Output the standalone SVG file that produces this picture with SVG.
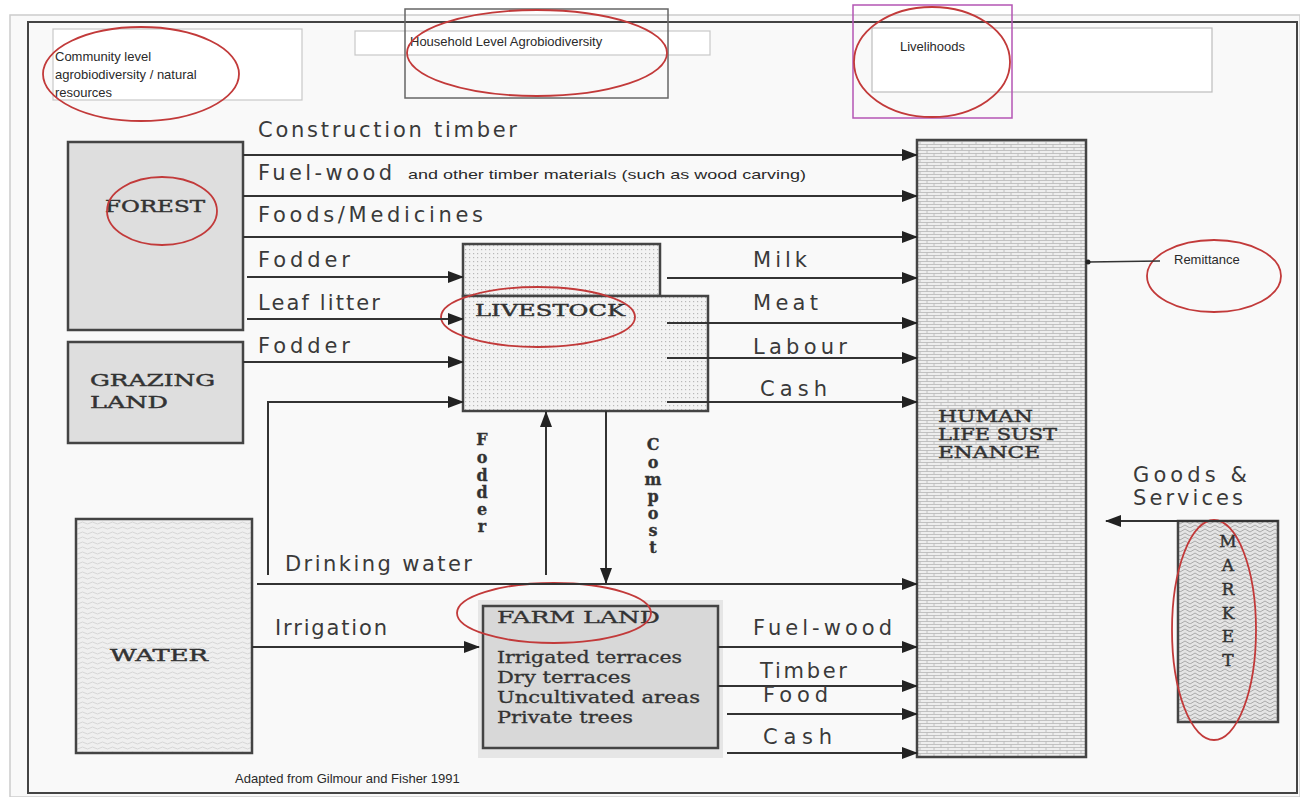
<svg xmlns="http://www.w3.org/2000/svg" width="1300" height="797" viewBox="0 0 1300 797">
<defs>
<style>
.lbl{font-family:"DejaVu Sans","Liberation Sans",Arial,sans-serif;font-size:21px;fill:#3a3a3a;}
.sm{font-family:"Liberation Sans",Arial,sans-serif;font-size:13px;fill:#2a2a2a;}
.ser{font-family:"DejaVu Serif","Liberation Serif",serif;font-size:17px;fill:#333;stroke:#333;stroke-width:0.45;}
.ser2{font-family:"DejaVu Serif","Liberation Serif",serif;font-size:16px;fill:#333;stroke:#333;stroke-width:0.3;}
.ln{stroke:#333;stroke-width:2;fill:none;}
.arr{marker-end:url(#ah);}
.box{stroke:#444;stroke-width:2.5;}
.red{fill:none;stroke:#c23a3a;stroke-width:1.8;}
</style>
<marker id="ah" markerUnits="userSpaceOnUse" markerWidth="16" markerHeight="12" refX="15" refY="6" orient="auto">
<path d="M0,0 L16,6 L0,12 z" fill="#222"/>
</marker>
<pattern id="dots" width="4" height="4" patternUnits="userSpaceOnUse">
<rect width="4" height="4" fill="#f3f3f3"/>
<rect x="1" y="1" width="1.2" height="1.2" fill="#b8b8b8"/>
</pattern>
<pattern id="brick" width="14" height="6" patternUnits="userSpaceOnUse">
<rect width="14" height="6" fill="#eeeeee"/>
<path d="M0,0.5 H14 M0,3.5 H14 M3,0.5 V3.5 M10,3.5 V6" stroke="#b5b5b5" stroke-width="0.8"/>
</pattern>
<pattern id="wave" width="10" height="5" patternUnits="userSpaceOnUse">
<rect width="10" height="5" fill="#efefef"/>
<path d="M0,3 Q2.5,1 5,3 T10,3" stroke="#cfcfcf" stroke-width="0.8" fill="none"/>
</pattern>
<pattern id="zig" width="10" height="8" patternUnits="userSpaceOnUse">
<rect width="10" height="8" fill="#e4e4e4"/>
<path d="M0,4 L5,1 L10,4 M0,8 L5,5 L10,8" stroke="#aaaaaa" stroke-width="1" fill="none"/>
</pattern>
</defs>

<rect x="0" y="0" width="1300" height="797" fill="#ffffff"/>
<rect x="10" y="15" width="1290" height="782" fill="#f9f9f9" stroke="#cccccc" stroke-width="1.5"/>
<rect x="28" y="22" width="1269" height="771" fill="#f9f9f9" stroke="#444" stroke-width="2"/>

<!-- Header boxes -->
<g id="community">
<rect x="53" y="29" width="249" height="71" fill="#ffffff" stroke="#c8c8c8" stroke-width="1.2"/>
<text class="sm" x="55" y="61">Community level</text>
<text class="sm" x="55" y="79">agrobiodiversity / natural</text>
<text class="sm" x="55" y="97">resources</text>
<ellipse class="red" cx="141" cy="74" rx="98" ry="47"/>
</g>
<g id="household">
<rect x="355" y="31" width="355" height="24" fill="#ffffff" stroke="#c8c8c8" stroke-width="1.2"/>
<rect x="405" y="9" width="263" height="89" fill="none" stroke="#666" stroke-width="1.5"/>
<text class="sm" x="410" y="46">Household Level Agrobiodiversity</text>
<ellipse class="red" cx="537" cy="53" rx="130" ry="43"/>
</g>
<g id="livelihoods">
<rect x="872" y="28" width="340" height="64" fill="#ffffff" stroke="#bdbdbd" stroke-width="1.2"/>
<rect x="853" y="5" width="159" height="113" fill="none" stroke="#b455b4" stroke-width="1.5"/>
<text class="sm" x="900" y="51">Livelihoods</text>
<ellipse class="red" cx="932" cy="62" rx="78" ry="55"/>
</g>

<!-- Nodes -->
<g id="forest">
<rect class="box" x="68" y="142" width="175" height="188" fill="#dedede"/>
<text class="ser" x="105" y="212" textLength="100" lengthAdjust="spacingAndGlyphs">FOREST</text>
<ellipse class="red" cx="162" cy="211" rx="55" ry="34"/>
</g>
<g id="grazing">
<rect class="box" x="68" y="342" width="175" height="101" fill="#dedede"/>
<text class="ser" x="90" y="386" textLength="125" lengthAdjust="spacingAndGlyphs">GRAZING</text>
<text class="ser" x="90" y="408" textLength="78" lengthAdjust="spacingAndGlyphs">LAND</text>
</g>
<g id="livestock">
<rect class="box" x="463" y="244" width="197" height="52" fill="url(#dots)"/>
<rect class="box" x="463" y="296" width="245" height="115" fill="url(#dots)"/>
<text class="ser" x="475" y="316" textLength="150" lengthAdjust="spacingAndGlyphs">LIVESTOCK</text>
<ellipse class="red" cx="538" cy="317" rx="97" ry="30"/>
</g>
<g id="water">
<rect class="box" x="76" y="519" width="176" height="234" fill="url(#wave)"/>
<text class="ser" x="110" y="661" textLength="98" lengthAdjust="spacingAndGlyphs">WATER</text>
</g>
<g id="farmland">
<rect x="478" y="600" width="245" height="158" fill="#e6e6e6"/>
<rect class="box" x="483" y="606" width="235" height="142" fill="#d8d8d8"/>
<text class="ser2" x="497" y="623" textLength="163" lengthAdjust="spacingAndGlyphs">FARM LAND</text>
<text class="ser2" x="497" y="663" textLength="185" lengthAdjust="spacingAndGlyphs">Irrigated terraces</text>
<text class="ser2" x="497" y="683" textLength="134" lengthAdjust="spacingAndGlyphs">Dry terraces</text>
<text class="ser2" x="497" y="703" textLength="203" lengthAdjust="spacingAndGlyphs">Uncultivated areas</text>
<text class="ser2" x="497" y="723" textLength="136" lengthAdjust="spacingAndGlyphs">Private trees</text>
<ellipse class="red" cx="554" cy="613" rx="97" ry="30"/>
</g>
<g id="human">
<rect class="box" x="917" y="140" width="169" height="617" fill="url(#brick)"/>
<text class="ser" x="938" y="422" textLength="95" lengthAdjust="spacingAndGlyphs">HUMAN</text>
<text class="ser" x="938" y="440" textLength="119" lengthAdjust="spacingAndGlyphs">LIFE SUST</text>
<text class="ser" x="938" y="458" textLength="102" lengthAdjust="spacingAndGlyphs">ENANCE</text>
</g>
<g id="market">
<rect class="box" x="1178" y="521" width="100" height="201" fill="url(#zig)"/>
<g class="ser" font-size="19" text-anchor="middle">
<text x="1228" y="547">M</text>
<text x="1228" y="571">A</text>
<text x="1228" y="595">R</text>
<text x="1228" y="619">K</text>
<text x="1228" y="642">E</text>
<text x="1228" y="666">T</text>
</g>
<ellipse class="red" cx="1214" cy="630" rx="42" ry="110"/>
</g>
<g id="remittance">
<text class="sm" x="1174" y="264">Remittance</text>
<ellipse class="red" cx="1214" cy="276" rx="67" ry="36"/>
</g>

<!-- Connectors -->
<g id="connectors">
<line class="ln arr" x1="243" y1="155" x2="917" y2="155"/>
<line class="ln arr" x1="243" y1="196" x2="917" y2="196"/>
<line class="ln arr" x1="243" y1="237" x2="917" y2="237"/>
<line class="ln arr" x1="247" y1="277" x2="463" y2="277"/>
<line class="ln arr" x1="247" y1="319" x2="463" y2="319"/>
<line class="ln arr" x1="243" y1="362" x2="463" y2="362"/>
<polyline class="ln arr" points="268,575 268,402 463,402"/>
<line class="ln arr" x1="667" y1="278" x2="917" y2="278"/>
<line class="ln arr" x1="667" y1="323" x2="917" y2="323"/>
<line class="ln arr" x1="667" y1="358" x2="917" y2="358"/>
<line class="ln arr" x1="667" y1="402" x2="917" y2="402"/>
<line class="ln arr" x1="546" y1="575" x2="546" y2="412"/>
<line class="ln arr" x1="606" y1="411" x2="606" y2="583"/>
<line class="ln arr" x1="257" y1="584" x2="917" y2="584"/>
<line class="ln arr" x1="252" y1="647" x2="479" y2="647"/>
<line class="ln arr" x1="718" y1="647" x2="917" y2="647"/>
<line class="ln arr" x1="718" y1="686" x2="917" y2="686"/>
<line class="ln arr" x1="727" y1="714" x2="917" y2="714"/>
<line class="ln arr" x1="727" y1="753" x2="917" y2="753"/>
<line class="ln arr" x1="1278" y1="521" x2="1106" y2="521"/>
<line x1="1088" y1="262" x2="1160" y2="261" stroke="#333" stroke-width="1.5"/>
<circle cx="1088" cy="262" r="2.5" fill="#222"/>
</g>

<!-- Connector labels -->
<g id="labels">
<text class="lbl" x="258" y="137" textLength="259" lengthAdjust="spacing">Construction timber</text>
<text class="lbl" x="258" y="180" textLength="134" lengthAdjust="spacing">Fuel-wood</text>
<text class="sm" x="408" y="179" font-size="14" textLength="398" lengthAdjust="spacingAndGlyphs">and other timber materials (such as wood carving)</text>
<text class="lbl" x="258" y="222" textLength="225" lengthAdjust="spacing">Foods/Medicines</text>
<text class="lbl" x="258" y="267" textLength="92" lengthAdjust="spacing">Fodder</text>
<text class="lbl" x="258" y="310" textLength="122" lengthAdjust="spacing">Leaf litter</text>
<text class="lbl" x="258" y="353" textLength="92" lengthAdjust="spacing">Fodder</text>
<text class="lbl" x="753" y="267" textLength="54" lengthAdjust="spacing">Milk</text>
<text class="lbl" x="753" y="310" textLength="65" lengthAdjust="spacing">Meat</text>
<text class="lbl" x="753" y="354" textLength="94" lengthAdjust="spacing">Labour</text>
<text class="lbl" x="760" y="396" textLength="67" lengthAdjust="spacing">Cash</text>
<text class="lbl" x="285" y="571" textLength="187" lengthAdjust="spacing">Drinking water</text>
<text class="lbl" x="275" y="635" textLength="112" lengthAdjust="spacing">Irrigation</text>
<text class="lbl" x="753" y="635" textLength="139" lengthAdjust="spacing">Fuel-wood</text>
<text class="lbl" x="760" y="678" font-size="20" textLength="87" lengthAdjust="spacing">Timber</text>
<text class="lbl" x="763" y="702" font-size="20" textLength="65" lengthAdjust="spacing">Food</text>
<text class="lbl" x="763" y="744" textLength="69" lengthAdjust="spacing">Cash</text>
<text class="lbl" x="1133" y="482" font-size="19" textLength="114" lengthAdjust="spacing" fill="#555">Goods &amp;</text>
<text class="lbl" x="1133" y="505" font-size="19" textLength="110" lengthAdjust="spacing" fill="#555">Services</text>
<g class="ser2" font-weight="bold" text-anchor="middle">
<text x="482" y="445">F</text>
<text x="482" y="463">o</text>
<text x="482" y="481">d</text>
<text x="482" y="498">d</text>
<text x="482" y="515">e</text>
<text x="482" y="532">r</text>
<text x="653" y="450">C</text>
<text x="653" y="468">o</text>
<text x="653" y="485">m</text>
<text x="653" y="502">p</text>
<text x="653" y="519">o</text>
<text x="653" y="536">s</text>
<text x="653" y="553">t</text>
</g>
<text class="sm" x="235" y="783">Adapted from Gilmour and Fisher 1991</text>
</g>
</svg>
